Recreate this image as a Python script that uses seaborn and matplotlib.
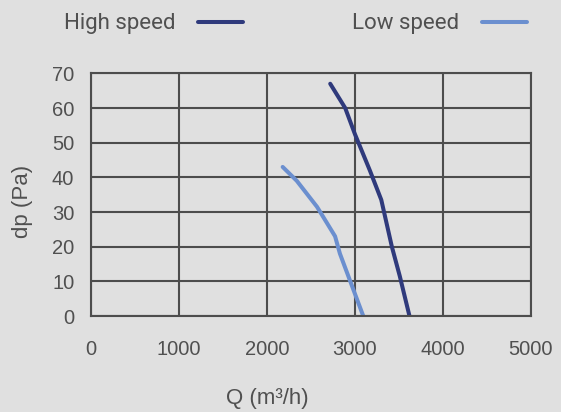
import pandas as pd
import matplotlib.pyplot as plt
import seaborn as sns

# Fan curves
high_q = [2720, 2890, 3000, 3170, 3300, 3420, 3510, 3620]
high_dp = [67, 60, 52.5, 42, 33.5, 20, 11.5, 0]
low_q = [2180, 2340, 2570, 2775, 2830, 3095]
low_dp = [43, 39, 31.5, 23, 18, 0]

x_ticks = [0, 1000, 2000, 3000, 4000, 5000]
y_ticks = [0, 10, 20, 30, 40, 50, 60, 70]
series_names = ["High speed", "Low speed"]
palette = {"High speed": "#2f3a7c", "Low speed": "#6b8fcf"}

df = pd.concat([
    pd.DataFrame({"Q": high_q, "dp": high_dp, "speed": "High speed"}),
    pd.DataFrame({"Q": low_q, "dp": low_dp, "speed": "Low speed"}),
])

bg = "#e0e0e0"
grid_c = "#4d4d4d"
text_c = "#505050"

sns.set_style("white")
plt.rcParams['font.family'] = ['Liberation Sans', 'DejaVu Sans']

fig = plt.figure(figsize=(5.61, 4.12), dpi=100, facecolor=bg)
ax = fig.add_axes([0.1617, 0.233, 0.7848, 0.589])
ax.set_facecolor(bg)

sns.lineplot(data=df, x="Q", y="dp", hue="speed", hue_order=series_names,
             palette=palette, sort=False, estimator=None, lw=2.9,
             legend=False, ax=ax)

ax.set_xlim(0, 5000)
ax.set_ylim(0, 70)
ax.set_xticks(x_ticks)
ax.set_yticks(y_ticks)
ax.set_axisbelow(True)
ax.grid(True, color=grid_c, lw=1.5)
for s in ax.spines.values():
    s.set_visible(True)
    s.set_color(grid_c)
    s.set_linewidth(1.5)
ax.tick_params(axis="both", direction="out", length=4.3, width=1.5, color=grid_c,
               labelcolor=text_c, labelsize=14.5)
ax.tick_params(axis="x", pad=13)
ax.tick_params(axis="y", pad=7.5)

ax.set_xlabel("Q (m³/h)", fontsize=16, color=text_c, va="center")
ax.xaxis.set_label_coords(0.40, -0.342)
ax.set_ylabel("dp (Pa)", fontsize=16, color=text_c, va="center")
ax.yaxis.set_label_coords(-0.156, 0.474)

handles = ax.get_lines()[:2]
fig.legend(handles, series_names, ncol=2, markerfirst=False, frameon=False,
           loc="center left", bbox_to_anchor=(64 / 561, 1 - 24 / 412),
           borderpad=0, borderaxespad=0, handlelength=2.05, handletextpad=1.0,
           columnspacing=4.9, prop={"family": "Roboto", "size": 16},
           labelcolor=text_c)

fig.savefig("out.png", dpi=100, facecolor=bg)
